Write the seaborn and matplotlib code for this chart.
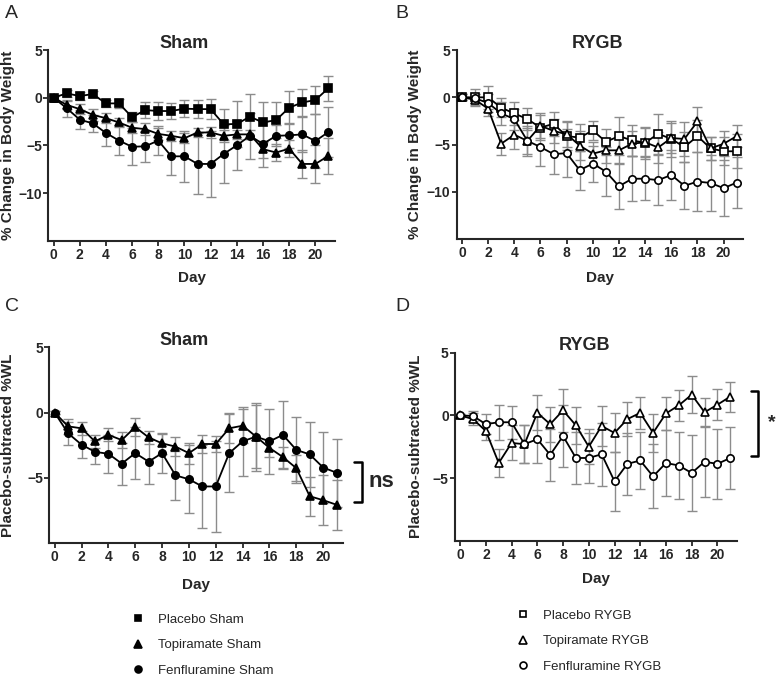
import matplotlib
matplotlib.use("Agg")
import matplotlib.pyplot as plt
from matplotlib.lines import Line2D
import seaborn as sns

# ---------------------------------------------
# Data (mean and SEM per day)
# ---------------------------------------------
days = list(range(22))
xticks = list(range(0, 21, 2))

# A: Sham, % change in body weight
placebo_sham = [0, 0.45, 0.17, 0.38, -0.6, -0.6, -2.05, -1.3, -1.4, -1.4, -1.15,
                -1.2, -1.2, -2.8, -2.75, -2.0, -2.6, -2.35, -1.05, -0.5, -0.25, 1.0]
placebo_sham_err = [0.3, 0.35, 0.4, 0.3, 0.4, 0.5, 0.5, 0.8, 0.9, 0.8, 0.9,
                    0.95, 1.05, 1.6, 2.4, 2.35, 2.1, 1.9, 1.75, 1.45, 1.45, 1.3]
topiramate_sham = [0, -0.75, -1.2, -1.8, -2.15, -2.6, -3.15, -3.3, -3.8, -4.0, -4.25,
                   -3.65, -3.65, -4.0, -3.85, -3.85, -5.4, -5.75, -5.35, -6.95, -6.95, -6.1]
topiramate_sham_err = [0.2, 0.4, 0.5, 0.6, 0.5, 0.5, 0.6, 0.6, 0.6, 0.5, 0.5,
                       0.5, 0.6, 0.6, 0.5, 0.5, 0.9, 0.9, 0.9, 1.5, 1.95, 1.9]
fenfluramine_sham = [0, -1.1, -2.3, -2.7, -3.7, -4.5, -5.15, -5.1, -4.5, -6.15, -6.15,
                     -6.95, -6.95, -5.9, -5.0, -4.0, -4.85, -4.0, -3.95, -3.85, -4.55, -3.6]
fenfluramine_sham_err = [0.2, 0.9, 1.0, 0.9, 1.4, 1.5, 1.95, 1.65, 1.5, 1.95, 2.65,
                         3.2, 3.5, 3.0, 2.6, 2.4, 2.45, 1.1, 1.3, 1.85, 2.8, 2.6]

# B: RYGB, % change in body weight
placebo_rygb = [0, 0, 0, -1.1, -1.7, -2.3, -3.2, -2.8, -4.1, -4.25, -3.5,
                -4.7, -4.1, -4.55, -4.8, -3.85, -4.4, -5.25, -4.1, -5.4, -5.7, -5.7]
placebo_rygb_err = [0.3, 0.9, 1.2, 1.0, 1.2, 1.2, 1.3, 1.3, 1.5, 1.4, 1.0,
                    1.4, 2.0, 1.6, 1.7, 2.1, 1.9, 1.6, 1.7, 1.2, 1.5, 1.8]
topiramate_rygb = [0, -0.25, -1.2, -4.9, -3.95, -4.6, -3.0, -3.55, -3.9, -5.1, -5.95,
                   -5.6, -5.6, -4.9, -4.75, -5.3, -4.3, -4.4, -2.55, -5.4, -4.9, -4.1]
topiramate_rygb_err = [0.3, 0.6, 0.8, 1.15, 1.55, 1.4, 1.3, 1.3, 1.4, 1.5, 1.2,
                       1.3, 1.4, 1.3, 1.5, 1.6, 1.6, 1.8, 1.55, 1.2, 1.3, 1.2]
fenfluramine_rygb = [0, -0.1, -0.6, -1.7, -2.3, -4.6, -5.25, -6.0, -5.9, -7.7, -7.0,
                     -7.85, -9.4, -8.6, -8.6, -8.75, -8.2, -9.35, -8.9, -9.05, -9.6, -9.0]
fenfluramine_rygb_err = [0.3, 0.5, 0.9, 1.2, 1.1, 1.6, 2.05, 2.1, 2.55, 2.05, 1.9,
                         2.55, 2.45, 2.4, 2.25, 2.65, 2.65, 2.5, 3.1, 3.0, 2.95, 2.65]

# C: Sham, placebo-subtracted %WL
topiramate_sham_sub = [0, -1.05, -1.2, -2.2, -1.7, -2.1, -1.1, -1.9, -2.35, -2.6, -3.1,
                       -2.4, -2.4, -1.2, -1.0, -1.83, -2.7, -3.4, -4.25, -6.4, -6.7, -7.05]
topiramate_sham_sub_err = [0.1, 0.6, 0.5, 0.5, 0.5, 0.6, 0.7, 0.5, 0.8, 0.7, 0.8,
                           0.7, 0.6, 1.15, 1.3, 2.4, 0.7, 0.8, 1.0, 1.5, 1.9, 1.9]
fenfluramine_sham_sub = [0, -1.58, -2.45, -3.0, -3.15, -3.9, -3.1, -3.75, -3.1, -4.8, -5.1,
                         -5.65, -5.65, -3.1, -2.2, -1.83, -2.2, -1.7, -2.85, -3.2, -4.2, -4.6]
fenfluramine_sham_sub_err = [0.1, 0.9, 1.05, 0.9, 1.45, 1.6, 2.0, 1.7, 1.5, 1.9, 2.6,
                             3.15, 3.5, 3.0, 2.65, 2.6, 2.5, 2.6, 2.55, 2.5, 2.7, 2.6]

# D: RYGB, placebo-subtracted %WL
topiramate_rygb_sub = [0, -0.3, -1.25, -3.8, -2.2, -2.3, 0.2, -0.7, 0.4, -0.8, -2.5,
                       -0.85, -1.4, -0.3, 0.2, -1.4, 0.15, 0.8, 1.65, 0.25, 0.85, 1.5]
topiramate_rygb_sub_err = [0.1, 0.5, 0.7, 1.1, 1.4, 1.5, 1.4, 1.4, 1.7, 1.5, 1.4,
                           1.6, 1.55, 1.35, 1.25, 1.5, 1.3, 1.25, 1.5, 1.1, 1.25, 1.2]
fenfluramine_rygb_sub = [0, -0.05, -0.7, -0.55, -0.55, -2.3, -1.9, -3.15, -1.65, -3.4, -3.4,
                         -3.1, -5.26, -3.87, -3.6, -4.87, -3.8, -4.0, -4.6, -3.7, -3.87, -3.4]
fenfluramine_rygb_sub_err = [0.1, 0.4, 0.8, 1.4, 1.3, 1.5, 1.9, 2.1, 2.45, 2.05, 2.0,
                             2.5, 2.35, 2.45, 2.3, 2.55, 2.65, 2.7, 3.0, 2.8, 2.8, 2.5]

sham_labels = ["Placebo Sham", "Topiramate Sham", "Fenfluramine Sham"]
rygb_labels = ["Placebo RYGB", "Topiramate RYGB", "Fenfluramine RYGB"]

# ---------------------------------------------
# Style
# ---------------------------------------------
sns.set_style("ticks")
plt.rcParams["font.family"] = ["Liberation Sans", "DejaVu Sans"]
plt.rcParams["axes.linewidth"] = 1.5
plt.rcParams["xtick.major.width"] = 1.3
plt.rcParams["ytick.major.width"] = 1.3

ERR_COLOR = "#8c8c8c"


def draw_series(ax, y, err, marker, filled):
    ax.errorbar(days, y, yerr=err, fmt="none", ecolor=ERR_COLOR,
                elinewidth=1.0, capsize=3.5, capthick=1.0, zorder=1)
    sns.lineplot(x=days, y=y, ax=ax, color="black", linewidth=1.3,
                 marker=marker, markersize=5.3 if marker != "^" else 6,
                 markerfacecolor="black" if filled else "white",
                 markeredgecolor="black", markeredgewidth=1.2,
                 errorbar=None, zorder=3)


def style_axes(ax, title, ylabel, ylim, yticks, ylab_x, xlab_y, title_x):
    ax.set_xlim(-0.4, 21.5)
    ax.set_ylim(*ylim)
    ax.set_xticks(xticks)
    ax.set_yticks(yticks)
    ax.tick_params(axis="both", length=3.5, labelsize=10)
    ax.tick_params(axis="y", pad=1)
    ax.tick_params(axis="x", pad=1.5)
    for lab in ax.get_xticklabels() + ax.get_yticklabels():
        lab.set_fontweight("bold")
    sns.despine(ax=ax)
    ax.set_xlabel("Day", fontsize=11, fontweight="bold")
    ax.set_ylabel(ylabel, fontsize=11, fontweight="bold")
    ax.yaxis.set_label_coords(ylab_x, 0.5)
    ax.xaxis.set_label_coords(0.5, xlab_y)
    ax.annotate(title, xy=(title_x, 1), xycoords="axes fraction", xytext=(0, 5),
                textcoords="offset points", ha="center", va="center",
                fontsize=13, fontweight="bold")


fig = plt.figure(figsize=(7.77, 6.79), dpi=100)
W, H = 777, 679


def add_axes(left, right, top, bottom):
    return fig.add_axes([left / W, 1 - bottom / H, (right - left) / W, (bottom - top) / H])


axA = add_axes(48.3, 335, 50, 240.7)
axB = add_axes(456.7, 743.3, 50, 239.3)
axC = add_axes(49.3, 343.3, 347.3, 543.3)
axD = add_axes(455, 736.7, 352.7, 540.7)

# A
draw_series(axA, placebo_sham, placebo_sham_err, "s", True)
draw_series(axA, topiramate_sham, topiramate_sham_err, "^", True)
draw_series(axA, fenfluramine_sham, fenfluramine_sham_err, "o", True)
style_axes(axA, "Sham", "% Change in Body Weight", (-15, 5), [-10, -5, 0, 5],
           -0.116, -0.159, 0.473)

# B
draw_series(axB, placebo_rygb, placebo_rygb_err, "s", False)
draw_series(axB, topiramate_rygb, topiramate_rygb_err, "^", False)
draw_series(axB, fenfluramine_rygb, fenfluramine_rygb_err, "o", False)
style_axes(axB, "RYGB", "% Change in Body Weight", (-15, 5), [-10, -5, 0, 5],
           -0.122, -0.167, 0.49)

# C
draw_series(axC, topiramate_sham_sub, topiramate_sham_sub_err, "^", True)
draw_series(axC, fenfluramine_sham_sub, fenfluramine_sham_sub_err, "o", True)
style_axes(axC, "Sham", "Placebo-subtracted %WL", (-10, 5), [-5, 0, 5],
           -0.117, -0.177, 0.46)

# D
draw_series(axD, topiramate_rygb_sub, topiramate_rygb_sub_err, "^", False)
draw_series(axD, fenfluramine_rygb_sub, fenfluramine_rygb_sub_err, "o", False)
style_axes(axD, "RYGB", "Placebo-subtracted %WL", (-10, 5), [-5, 0, 5],
           -0.113, -0.166, 0.46)

# significance brackets
axC.plot([22.33, 22.88, 22.88, 22.33], [-3.74, -3.74, -6.84, -6.84],
         color="black", lw=1.8, clip_on=False)
axC.text(23.4, -5.27, "ns", fontsize=16, fontweight="bold", ha="left", va="center")
axD.plot([22.6, 23.18, 23.18, 22.6], [1.92, 1.92, -3.26, -3.26],
         color="black", lw=1.8, clip_on=False)
axD.text(24.2, -0.55, "*", fontsize=14, fontweight="bold", ha="center", va="center")

# panel letters
for letter, x, y in [("A", 5, 5), ("B", 395, 5), ("C", 5, 298), ("D", 395, 298)]:
    fig.text(x / W, 1 - y / H, letter, fontsize=14, ha="left", va="top")

# legends
def legend_handles(filled):
    fc = "black" if filled else "white"
    return [Line2D([], [], linestyle="none", marker=m, markersize=5 if m != "^" else 5.5,
                   markerfacecolor=fc, markeredgecolor="black", markeredgewidth=1.2)
            for m in ["s", "^", "o"]]


leg_kw = dict(frameon=False, fontsize=9.5, handlelength=1.0, handletextpad=1.0,
              labelspacing=1.0, borderpad=0, borderaxespad=0, loc="center left")
fig.legend(legend_handles(True), sham_labels, bbox_to_anchor=(131.4 / W, 1 - 645 / H), **leg_kw)
fig.legend(legend_handles(False), rygb_labels, bbox_to_anchor=(516.4 / W, 1 - 641 / H), **leg_kw)

fig.savefig("out.png", dpi=100)
